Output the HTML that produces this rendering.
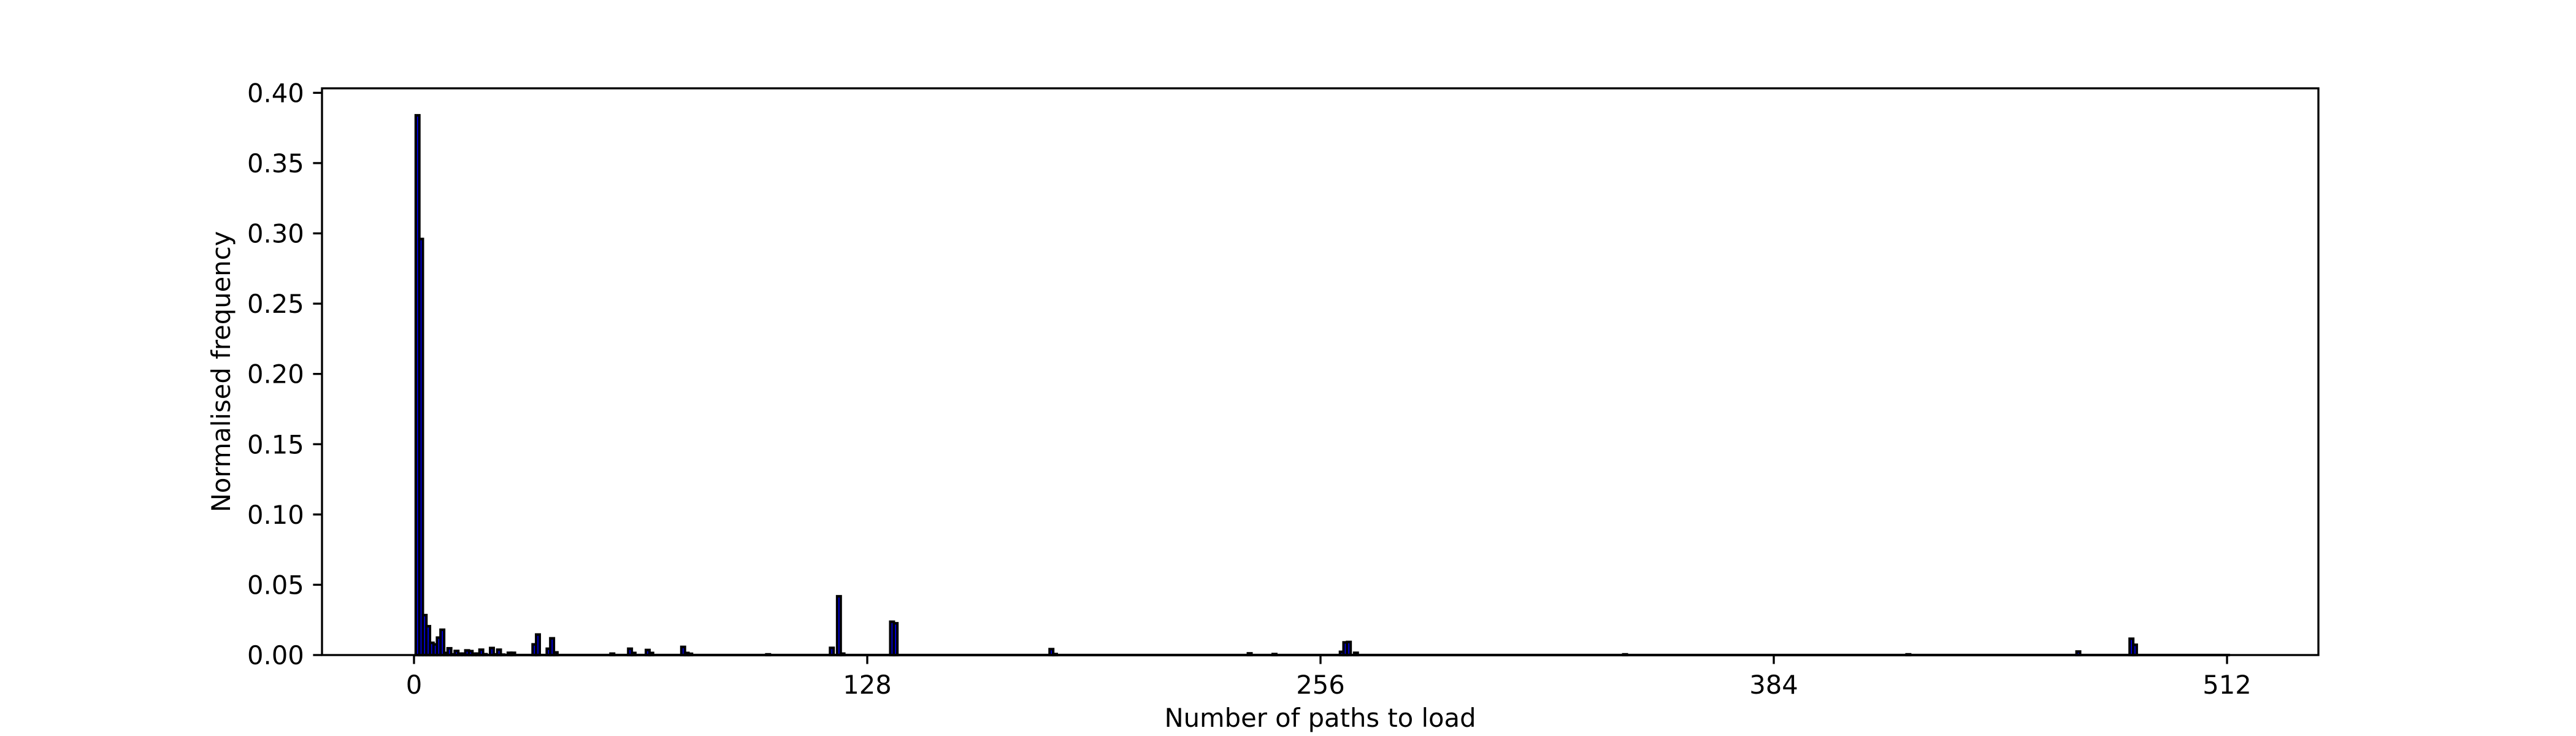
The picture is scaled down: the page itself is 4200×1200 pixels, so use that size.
<!DOCTYPE html>
<html>
<head>
<meta charset="utf-8">
<style>
  html, body { margin: 0; padding: 0; background: #fff; }
  svg { display: block; }
  text { font-family: "DejaVu Sans", "Liberation Sans", sans-serif; fill: #000; }
</style>
</head>
<body>
<svg id="chart" width="4200" height="1200" viewBox="0 0 4200 1200" xmlns="http://www.w3.org/2000/svg">
  <rect x="0" y="0" width="4200" height="1200" fill="#fff"/>
  <g id="bars"></g>
  <g id="axes"></g>
</svg>
<script>
// ---- data ----
const pathCounts = [1,2,3,4,5,6,7,8,9,10,11,12,13,14,15,16,17,18,19,20,22,23,24,25,27,28,34,35,38,39,40,56,61,62,66,67,76,77,78,100,118,120,121,135,136,180,181,236,243,262,263,264,266,342,422,470,485,486];
const frequencies = [0.384,0.296,0.0284,0.0205,0.0087,0.0076,0.0124,0.018,0.0015,0.0048,0.0005,0.0029,0.001,0.001,0.0033,0.0028,0.001,0.001,0.0038,0.0006,0.005,0.0005,0.0038,0.0003,0.0016,0.0016,0.0076,0.0146,0.0045,0.0119,0.0019,0.001,0.0045,0.0015,0.0036,0.0015,0.0058,0.0015,0.0009,0.0005,0.0051,0.0418,0.001,0.0237,0.0226,0.0042,0.0007,0.0012,0.0007,0.0023,0.009,0.0093,0.0016,0.0005,0.0005,0.0025,0.0116,0.0073];
const binRange = [1, 512];
const xTicks = [0, 128, 256, 384, 512];
const yTicks = [0, 0.05, 0.10, 0.15, 0.20, 0.25, 0.30, 0.35, 0.40];
const yTickLabels = ["0.00","0.05","0.10","0.15","0.20","0.25","0.30","0.35","0.40"];

// ---- layout ----
const L = 525, R = 3780, T = 144, B = 1068;
const xMin = -25.98, xMax = 537.8;
const yMin = 0, yMax = 0.4032;
const xs = v => L + (v - xMin) / (xMax - xMin) * (R - L);
const ys = v => B - (v - yMin) / (yMax - yMin) * (B - T);
const NS = "http://www.w3.org/2000/svg";
const barsG = document.getElementById('bars');
const axesG = document.getElementById('axes');

function mk(tag, attrs, parent) {
  const el = document.createElementNS(NS, tag);
  for (const k in attrs) el.setAttribute(k, attrs[k]);
  parent.appendChild(el);
  return el;
}

// zero-height bar baseline (edges of empty bins)
const base = mk('rect', {x: xs(binRange[0] - 0.5) - 2, y: B - 2.1, width: xs(binRange[1] + 0.5) - xs(binRange[0] - 0.5) + 4, height: 4.2, fill: '#000'}, barsG);



// bars
for (let i = 0; i < pathCounts.length; i++) {
  const x0 = xs(pathCounts[i] - 0.5), x1 = xs(pathCounts[i] + 0.5);
  const y0 = ys(frequencies[i]);
  const r = mk('rect', {x: x0, y: y0, width: x1 - x0, height: B - y0, fill: '#0000ff', stroke: '#000', 'stroke-width': 4.17}, barsG);
  
  
}

// spines
const frame = mk('rect', {x: L, y: T, width: R - L, height: B - T, fill: 'none', stroke: '#000', 'stroke-width': 3.33}, axesG);



// x ticks
xTicks.forEach(t => {
  const x = xs(t);
  const tk = mk('line', {x1: x, x2: x, y1: B, y2: B + 14.6, stroke: '#000', 'stroke-width': 3.33}, axesG);
  
  
  const lb = mk('text', {x: x, y: 1131, 'text-anchor': 'middle', 'font-size': 41.7}, axesG);
  lb.textContent = String(t);
  
  
});

// y ticks
yTicks.forEach((t, i) => {
  const y = ys(t);
  const tk = mk('line', {x1: L - 14.6, x2: L, y1: y, y2: y, stroke: '#000', 'stroke-width': 3.33}, axesG);
  
  
  const lb = mk('text', {x: 495.8, y: y + 15, 'text-anchor': 'end', 'font-size': 41.7}, axesG);
  lb.textContent = yTickLabels[i];
  
  
});

// axis titles
const xt = mk('text', {x: (L + R) / 2, y: 1185, 'text-anchor': 'middle', 'font-size': 41.7}, axesG);
xt.textContent = 'Number of paths to load';



const yt = mk('text', {x: 0, y: 0, 'text-anchor': 'middle', 'font-size': 41.7, transform: 'translate(375,606) rotate(-90)'}, axesG);
yt.textContent = 'Normalised frequency';


</script>
</body>
</html>
